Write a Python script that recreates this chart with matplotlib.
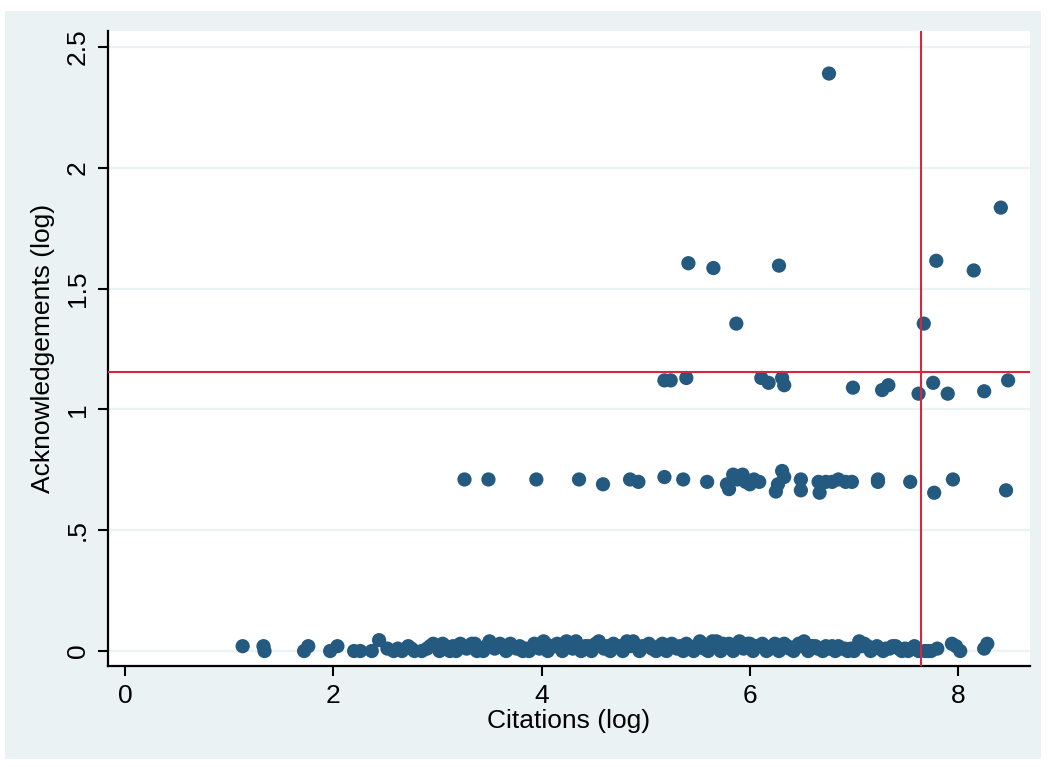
import matplotlib
matplotlib.use("Agg")
import matplotlib.pyplot as plt
from matplotlib.patches import Rectangle

# bottom band (no acknowledgements)
cit_zero = [1.13, 1.33, 1.34, 1.72, 1.76, 1.97, 2.04, 2.20, 2.26, 2.37, 2.44, 2.52, 2.58, 2.66,
            2.72, 2.78, 2.85, 2.90, 2.96, 3.02, 3.05, 3.12, 3.18, 3.22, 3.28, 3.33, 3.38, 3.44,
            3.50, 3.55, 3.60, 3.66, 3.70, 3.76, 3.82, 3.88, 3.93, 3.98, 4.02, 4.06, 4.10, 4.15,
            4.20, 4.24, 4.30, 4.33, 4.38, 4.42, 4.48, 4.55, 4.60, 4.66, 4.72, 4.78, 4.82, 4.88,
            4.94, 5.00, 5.06, 5.10, 5.16, 5.20, 5.25, 5.30, 5.36, 5.42, 5.46, 5.52, 5.56, 5.60,
            5.64, 5.68, 5.72, 5.76, 5.80, 5.84, 5.90, 5.94, 5.98, 6.03, 6.08, 6.12, 6.16, 6.20,
            6.24, 6.28, 6.33, 6.38, 6.42, 6.47, 6.52, 6.56, 6.60, 6.65, 6.70, 6.76, 6.82, 6.88,
            6.94, 7.00, 7.05, 7.10, 7.16, 7.22, 7.28, 7.34, 7.40, 7.46, 7.52, 7.58, 7.62, 7.68,
            7.74, 7.80, 7.94, 7.98, 8.02, 8.25, 8.28,
            2.62, 2.75, 2.93, 3.08, 3.15, 3.25, 3.36, 3.47, 3.58, 3.68, 3.79, 3.85, 3.95, 4.04,
            4.13, 4.22, 4.27, 4.36, 4.45, 4.52, 4.57, 4.63, 4.69, 4.75, 4.85, 4.91, 4.97, 5.03,
            5.13, 5.22, 5.28, 5.33, 5.39, 5.49, 5.54, 5.62, 5.70, 5.74, 5.82, 5.87, 5.92, 6.00,
            6.06, 6.10, 6.14, 6.22, 6.26, 6.30, 6.36, 6.45, 6.50, 6.58, 6.63, 6.73, 6.79, 6.85,
            6.91, 6.97, 7.08, 7.13, 7.19, 7.25, 7.31, 7.37, 7.43, 7.49, 7.55, 7.71]
ack_zero = [0.02, 0.02, 0.00, 0.00, 0.02, 0.00, 0.02, 0.00, 0.00, 0.00, 0.045, 0.01, 0.00, 0.00,
            0.02, 0.00, 0.00, 0.01, 0.03, 0.00, 0.03, 0.00, 0.00, 0.03, 0.01, 0.03, 0.00, 0.00,
            0.04, 0.01, 0.03, 0.00, 0.03, 0.01, 0.00, 0.00, 0.03, 0.01, 0.04, 0.00, 0.02, 0.03,
            0.00, 0.04, 0.01, 0.04, 0.00, 0.02, 0.00, 0.04, 0.01, 0.00, 0.02, 0.00, 0.04, 0.04,
            0.00, 0.02, 0.01, 0.00, 0.03, 0.00, 0.03, 0.01, 0.00, 0.02, 0.00, 0.04, 0.01, 0.00,
            0.04, 0.04, 0.00, 0.02, 0.03, 0.00, 0.04, 0.01, 0.03, 0.00, 0.02, 0.03, 0.00, 0.01,
            0.03, 0.00, 0.03, 0.01, 0.00, 0.03, 0.04, 0.00, 0.02, 0.01, 0.00, 0.01, 0.00, 0.01,
            0.00, 0.00, 0.04, 0.03, 0.00, 0.02, 0.00, 0.01, 0.02, 0.00, 0.00, 0.02, 0.00, 0.00,
            0.00, 0.01, 0.03, 0.02, 0.00, 0.01, 0.03,
            0.01, 0.01, 0.02, 0.02, 0.02, 0.02, 0.03, 0.02, 0.02, 0.02, 0.02, 0.01, 0.02, 0.03,
            0.02, 0.03, 0.02, 0.02, 0.02, 0.03, 0.02, 0.02, 0.03, 0.02, 0.02, 0.02, 0.02, 0.03,
            0.02, 0.02, 0.02, 0.02, 0.03, 0.02, 0.03, 0.02, 0.02, 0.03, 0.02, 0.02, 0.03, 0.03,
            0.02, 0.02, 0.02, 0.02, 0.02, 0.02, 0.02, 0.02, 0.02, 0.02, 0.02, 0.02, 0.02, 0.02,
            0.01, 0.01, 0.02, 0.02, 0.01, 0.01, 0.01, 0.02, 0.01, 0.01, 0.01, 0.00]

# middle band (~0.7)
cit_mid = [3.26, 3.49, 3.95, 4.36, 4.59, 4.85, 4.93, 5.18, 5.36, 5.59, 5.78, 5.80, 5.84, 5.88,
           5.93, 5.96, 6.00, 6.04, 6.09, 6.25, 6.27, 6.31, 6.33, 6.49, 6.49, 6.66, 6.67, 6.73,
           6.79, 6.85, 6.92, 6.98, 7.23, 7.23, 7.54, 7.77, 7.95, 8.46]
ack_mid = [0.71, 0.71, 0.71, 0.71, 0.69, 0.71, 0.70, 0.72, 0.71, 0.70, 0.69, 0.67, 0.73, 0.71,
           0.73, 0.70, 0.69, 0.71, 0.70, 0.66, 0.69, 0.745, 0.72, 0.71, 0.665, 0.70, 0.655, 0.70,
           0.70, 0.71, 0.70, 0.70, 0.71, 0.70, 0.70, 0.655, 0.71, 0.665]

# upper band (~1.1 and above)
cit_high = [5.18, 5.24, 5.39, 6.11, 6.18, 6.31, 6.33, 6.99, 7.27, 7.33, 7.62, 7.76, 7.90, 8.25,
            8.48, 5.87, 7.67, 5.41, 5.65, 6.28, 7.79, 8.15, 8.41, 6.76]
ack_high = [1.12, 1.12, 1.13, 1.13, 1.11, 1.13, 1.10, 1.09, 1.08, 1.10, 1.065, 1.11, 1.065, 1.075,
            1.12, 1.355, 1.355, 1.605, 1.585, 1.595, 1.615, 1.575, 1.835, 2.39]

vline = 7.64
hline = 1.153

xticks = [0, 2, 4, 6, 8]
yticks = [0, 0.5, 1, 1.5, 2, 2.5]
ylabels = ["0", ".5", "1", "1.5", "2", "2.5"]

plt.rcParams["font.family"] = ["Liberation Sans", "DejaVu Sans"]

fig = plt.figure(figsize=(10.48, 7.67), dpi=100, facecolor="white")
fig.add_artist(Rectangle((5 / 1048, 8 / 767), 1036 / 1048, 748 / 767,
                         transform=fig.transFigure, facecolor="#eaf2f3",
                         edgecolor="none", zorder=-5))
ax = fig.add_axes([108 / 1048, 1 - 666 / 767, 922 / 1048, 635 / 767])
ax.set_facecolor("white")

for y in yticks:
    ax.axhline(y, color="#eaf2f3", lw=1.6, zorder=1)

cits = cit_zero + cit_mid + cit_high
acks = ack_zero + ack_mid + ack_high
ax.scatter(cits, acks, s=105, color="#245a80", edgecolors="none", zorder=3)

ax.axvline(vline, color="#d7263d", lw=1.5, zorder=4)
ax.axhline(hline, color="#d7263d", lw=1.5, zorder=4)

ax.set_xlim(-0.163, 8.69)
ax.set_ylim(-0.062, 2.566)
ax.set_xticks(xticks)
ax.set_yticks(yticks)
ax.set_yticklabels(ylabels, rotation=90, va="center")
ax.tick_params(axis="both", labelsize=19, length=7, width=1.5, color="black")
ax.tick_params(axis="y", pad=6)
ax.tick_params(axis="x", pad=6)

for side in ["top", "right"]:
    ax.spines[side].set_visible(False)
for side in ["left", "bottom"]:
    ax.spines[side].set_linewidth(1.6)

ax.set_xlabel("Citations (log)", fontsize=19, labelpad=1)
ax.set_ylabel("Acknowledgements (log)", fontsize=19, labelpad=8)

fig.savefig("out.png", dpi=100, facecolor=fig.get_facecolor())
